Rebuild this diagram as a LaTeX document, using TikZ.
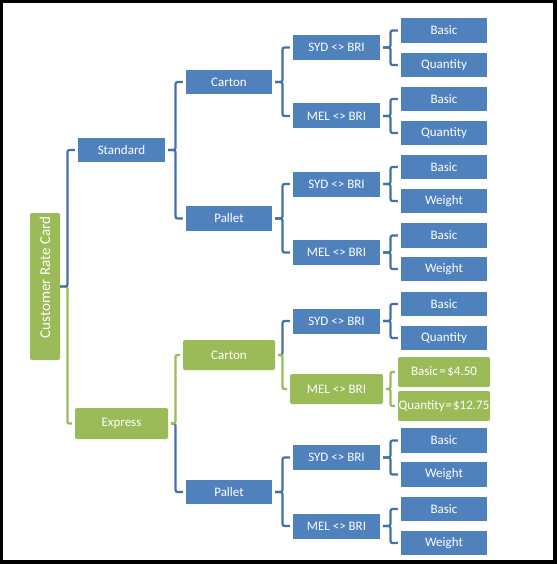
\documentclass[tikz,border=0pt]{standalone}
\usepackage{fontspec}
\setmainfont{Carlito}
\usetikzlibrary{positioning,calc}
\definecolor{boxblue}{HTML}{4F81BD}
\definecolor{lineblue}{HTML}{4470A8}
\definecolor{boxgreen}{HTML}{9BBB59}

\begin{document}
\begin{tikzpicture}[x=1pt,y=-1pt,
    bbox/.style={fill=boxblue, text=white, inner sep=0pt,
        minimum width=86pt, minimum height=24.5pt,
        font=\fontsize{13}{15}\selectfont},
    gbox/.style={bbox, fill=boxgreen, rounded corners=2pt,
        minimum width=92pt, minimum height=30pt},
    bline/.style={draw=lineblue, line width=2.2pt, rounded corners=2pt,
        shorten <=3pt, shorten >=3pt},
    gline/.style={bline, draw=boxgreen, line width=2.4pt}]
    \useasboundingbox (0,0) rectangle (557,564);
    % Cadre
    \fill[black] (0,0) rectangle (557,564);
    \fill[white] (3,3) rectangle (553,560);

    % Colonnes des jonctions
    \coordinate (j0) at (67.5,0);
    \coordinate (j1) at (175.5,0);
    \coordinate (j2) at (282.5,0);
    \coordinate (j3) at (390.5,0);

    % Racine
    \node[gbox, minimum width=30pt, minimum height=147pt,
        font=\fontsize{15}{18}\selectfont] (root) at (45,286.5)
        {\rotatebox{90}{\hspace*{18pt}Customer Rate Card}};

    % Niveau 1
    \node[bbox, minimum width=87pt, minimum height=24pt] (std) at (121.5,150) {Standard};
    \node[gbox, minimum width=93pt, minimum height=31pt] (exp) at (121.5,423.5) {Express};

    % Niveau 2
    \node[bbox] (car1) at (229,82) {Carton};
    \node[bbox] (pal1) at (229,218.5) {Pallet};
    \node[gbox] (car2) at (229,355) {Carton};
    \node[bbox] (pal2) at (229,492) {Pallet};

    % Trajets
    \foreach \n/\y/\t in {1/47.5/SYD, 2/116/MEL, 3/184/SYD, 4/252.5/MEL,
                          5/321/SYD, 7/457.5/SYD, 8/526/MEL} {
        \node[bbox, minimum width=87pt, minimum height=25pt] (r\n) at (336.5,\y) {\t{} <> BRI};
    }
    \node[gbox, minimum width=93pt] (r6) at (336.5,389) {MEL <> BRI};

    % Tarifs
    \foreach \n/\y/\t in {1/30.5/Basic, 2/65/Quantity, 3/99/Basic, 4/133/Quantity,
                          5/167/Basic, 6/201/Weight, 7/235.5/Basic, 8/269/Weight,
                          9/304/Basic, 10/338/Quantity, 13/440.5/Basic, 14/474.5/Weight,
                          15/509/Basic, 16/543/Weight} {
        \node[bbox] (f\n) at (444,\y) {\t};
    }
    \node[gbox] (f11) at (444,372) {Basic\kern1.5pt=\kern1.5pt\$4.50};
    \node[gbox] (f12) at (444,406) {Quantity\kern1pt=\kern1pt\$12.75};

    % Liens
    \draw[gline, shorten <=0pt] (root.east) -- (root.east -| j0) |- (exp.west);
    \draw[bline, shorten <=0pt] (root.east) -- (root.east -| j0) |- (std.west);

    \draw[bline] (std.east) -- (std.east -| j1) |- (car1.west);
    \draw[bline] (std.east) -- (std.east -| j1) |- (pal1.west);
    \draw[bline] (exp.east) -- (exp.east -| j1) |- (pal2.west);
    \draw[gline] (exp.east) -- (exp.east -| j1) |- (car2.west);

    \foreach \p/\c in {car1/r1, car1/r2, pal1/r3, pal1/r4, car2/r5, pal2/r7, pal2/r8} {
        \draw[bline] (\p.east) -- (\p.east -| j2) |- (\c.west);
    }
    \draw[gline] (car2.east) -- (car2.east -| j2) |- (r6.west);

    \foreach \p/\c in {r1/f1, r1/f2, r2/f3, r2/f4, r3/f5, r3/f6, r4/f7, r4/f8,
                       r5/f9, r5/f10, r7/f13, r7/f14, r8/f15, r8/f16} {
        \draw[bline] (\p.east) -- (\p.east -| j3) |- (\c.west);
    }
    \draw[gline] (r6.east) -- (r6.east -| j3) |- (f11.west);
    \draw[gline] (r6.east) -- (r6.east -| j3) |- (f12.west);
\end{tikzpicture}
\end{document}
